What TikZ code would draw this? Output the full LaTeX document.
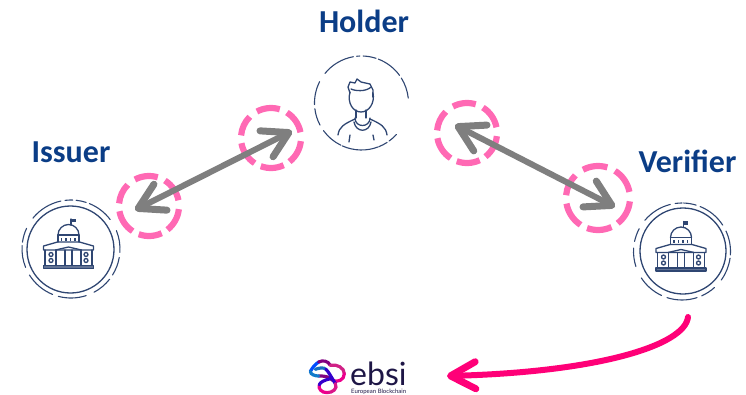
\documentclass[tikz,border=0pt]{standalone}
\usepackage{fontspec}
\setmainfont{Carlito}
\newfontfamily\logofont{Lato}
\usetikzlibrary{arrows.meta}
\definecolor{navy}{HTML}{2F4672}
\definecolor{titleblue}{HTML}{0B3D86}
\definecolor{ringpink}{HTML}{FF69B4}
\definecolor{arrowgrey}{HTML}{7F7F7F}
\definecolor{hotpink}{HTML}{FF0078}
\definecolor{logoink}{HTML}{1E1646}
\newcommand{\ringarcs}[4]{%
  \begin{scope}[shift={(#1,#2)},y=1pt]
    \foreach \a/\b in {#4} {\draw (\a:#3) arc[start angle=\a,end angle=\b,radius=#3];}
  \end{scope}}
\newcommand{\pinkring}[3]{\ringarcs{#1}{#2}{#3}{118/73,58/11,-6/-52,-65/-110,-123/-170,175/135}}
\tikzset{
  title/.style={font=\fontsize{32}{34}\selectfont\bfseries,text=titleblue,inner sep=0pt},
  thinink/.style={draw=navy,line width=1.3pt,line cap=round,line join=round},
  outerarc/.style={thinink,line width=1.1pt},
  pinkdash/.style={draw=ringpink,line width=6.2pt},
  dbl/.style={draw=arrowgrey,line width=6pt,
    {Straight Barb[length=25pt,width=29pt,line width=7pt,round]}-{Straight Barb[length=25pt,width=29pt,line width=7pt,round]}},
  bldg/.pic={
    \begin{scope}[thinink]
      \draw[fill=navy!75] (-25,15.5) rectangle (25,18.5);
      \draw (-25,0) -- (-25,-4) -- (-11,-8) -- (11,-8) -- (25,-4) -- (25,0) -- cycle;
      \draw (-13,0) -- (0,-3) -- (13,0);
      \foreach \cx in {-23.5,-12.5,-3.5,3.5,12.5,23.5} {\draw (\cx,0) -- (\cx,15.5);}
      \foreach \cx in {-17.5,17.5} {
        \draw (\cx,4.5) circle (2);
        \draw (\cx,10.5) circle (2);}
      \draw (-10.5,-8) -- (-10.5,-15) -- (10.5,-15) -- (10.5,-8);
      \foreach \cx in {-7,-2.5,2,6.5} {\fill[navy] (\cx-.8,-12.5) rectangle (\cx+.8,-9.5);}
      \draw (-10.5,-15) arc[start angle=180,end angle=360,radius=10.5];
      \draw (2.5,-25) -- (2.5,-31);
      \fill[navy] (2.5,-31.5) rectangle (7,-28);
    \end{scope}}
}
\begin{document}
\begin{tikzpicture}[x=1pt,y=-1pt]
\useasboundingbox (0,0) rectangle (746,394);
% titles
\node[title] (holder) at (364,21) {Holder};
\node[title] (issuer) at (71,152) {Issuer};
\node[title] (verifier) at (687.5,161) {Verifier};
% issuer
\begin{scope}[outerarc]
\ringarcs{71}{249}{49}{141/102,97/88,84/72,68/37,22/-4,-10/-32,-38/-62,-72/-105,-112/-148,-158/-184,-188/-205}
\end{scope}
\draw[thinink] (70.5,249.5) circle (43.5);
\pic at (68.5,250) {bldg};
% verifier
\begin{scope}[outerarc]
\ringarcs{682}{251.5}{48.5}{140/104,98/90,88/73,68/33,25/-4,-8/-36,-48/-66,-72/-108,-115/-147,-162/-184,-192/-208}
\end{scope}
\draw[thinink] (683,251) circle (43);
\pic at (681,252.5) {bldg};
% holder
\begin{scope}[outerarc]
\ringarcs{361.5}{103}{47}{141/100,96/92,88/72,69/36,32/6,-42/-54,-57/-68,-69/-114,-116/-144,-152/-173,-178/-207}
\end{scope}
\begin{scope}[thinink]
\draw (350,93) -- (348,87) -- (350,82) -- (355,83) -- (357,79) -- (361,82) -- (370,84) -- (373,90) -- (372.7,97);
\draw (351,89) .. controls (355,91) and (366,92) .. (371,87);
\draw (350,92) .. controls (347,103) and (353,112) .. (361,112) .. controls (369,112) and (375,103) .. (373,93);
\draw (356,110) -- (356,118) (366,110) -- (366,118);
\draw (355,118) .. controls (355,128) and (370,128) .. (370,118);
\draw (354,122) .. controls (356,133) and (369,133) .. (371,122);
\draw (338,135) .. controls (339,127) and (344,124) .. (355,119);
\draw (387,135) .. controls (386,127) and (381,124) .. (370,119);
\draw (350,135) -- (349,142) (373,135) -- (374,140);
\end{scope}
% pink rings
\begin{scope}[pinkdash]
\pinkring{149}{206}{30}
\pinkring{271}{138}{30}
\pinkring{467}{133}{30}
\pinkring{598}{198}{32}
\end{scope}
% connectors
\coordinate (ia) at (135,210);
\coordinate (ib) at (292,131);
\coordinate (va) at (455,125);
\coordinate (vb) at (615,207);
\coordinate (pa) at (688,317);
\coordinate (pb) at (447,376);
\draw[dbl] (ia) -- (ib);
\draw[dbl] (va) -- (vb);
\draw[hotpink,line width=6pt,line cap=round,-{Straight Barb[length=25pt,width=27pt,line width=7pt,round]}]
  (pa) .. controls (685,345) and (600,372) .. (pb);
% logo
\begin{scope}[xshift=302pt,yshift=-352pt,x=.3333pt,y=-.3333pt,line width=3.2pt,line cap=round]
\draw[color=blue!70!cyan] (25,58) .. controls (33,45) and (38,38) .. (50,30);
\draw[color=violet] (50,30) .. controls (62,24) and (78,26) .. (85,40);
\draw[color=magenta!70!violet] (85,40) .. controls (105,35) and (127,48) .. (127,65);
\draw[color=magenta] (127,65) .. controls (127,85) and (105,92) .. (92,85);
\draw[color=violet] (92,85) .. controls (80,72) and (65,72) .. (50,72);
\draw[color=cyan!60!blue] (50,72) .. controls (40,72) and (25,68) .. (25,58);
\draw[color=cyan!50!blue] (40,52) .. controls (50,48) and (65,45) .. (72,52);
\draw[color=blue!60!violet] (72,52) .. controls (80,60) and (88,75) .. (100,95);
\draw[color=magenta!80!violet] (100,95) .. controls (108,110) and (92,122) .. (75,122);
\draw[color=magenta] (75,122) .. controls (58,122) and (48,110) .. (52,98);
\draw[color=blue!60!violet] (52,98) .. controls (55,90) and (68,84) .. (85,80);
\end{scope}
\node[font=\logofont\fontsize{32}{32}\selectfont,text=logoink,inner sep=0pt,anchor=base west] (ebsi) at (350,385.5) {ebsi};
\node[font=\logofont\fontsize{6}{6}\selectfont,text=logoink,inner sep=0pt,anchor=base west] (tagline) at (351,393.5) {European Blockchain};
\end{tikzpicture}
\end{document}
